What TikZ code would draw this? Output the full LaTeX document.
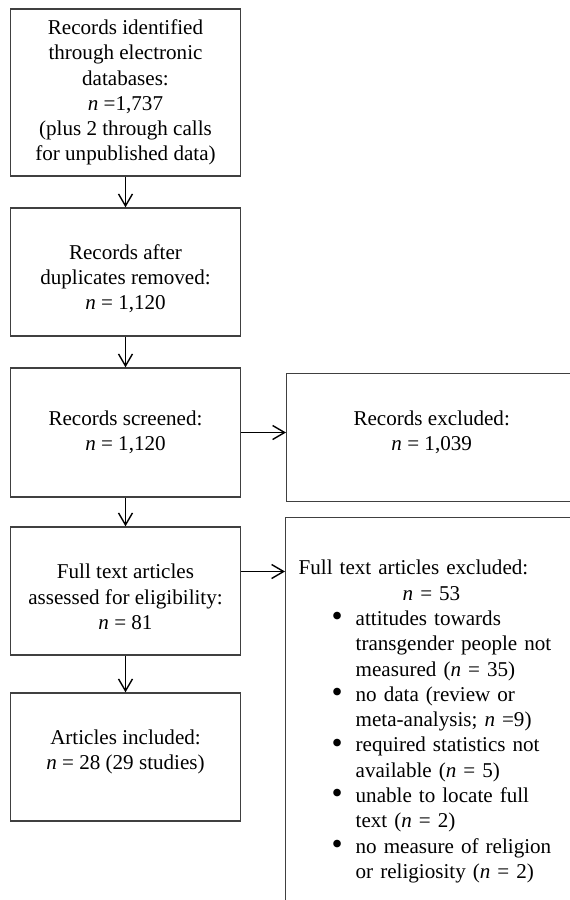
\documentclass[tikz,border=0pt]{standalone}
\usepackage{fontspec}
\setmainfont{Liberation Serif}
\usetikzlibrary{arrows.meta}
\newcommand{\fitem}{\hspace*{0.66cm}\makebox[0.48cm][l]{\raisebox{-0.6pt}{\scalebox{1.5}{\textbullet}}}}
\newcommand{\fcont}{\hspace*{1.14cm}}
\tikzset{
  recbox/.style={rectangle,draw=black!75,line width=0.8pt,align=center,minimum width=4.6cm,minimum height=2.56cm},
  sidebox/.style={rectangle,draw=black!75,line width=0.8pt,align=center,minimum width=5.8cm,minimum height=2.56cm},
  flow/.style={line width=0.8pt,-{Straight Barb[length=0.24cm,width=0.28cm]}}
}
\begin{document}
\begin{tikzpicture}[font=\fontsize{12}{14.4}\selectfont]
\clip (0,0) rectangle (11.4,-18);
\path (2.51,-1.85) node(a)[recbox,minimum height=3.34cm]{Records identified\\through electronic\\databases:\\\textit{n} =1,737\\(plus 2 through calls\\for unpublished data)}
(2.51,-5.44) node(b)[recbox]{\rule{0pt}{0.57cm}Records after\\duplicates removed:\\\textit{n} = 1,120}
(2.51,-8.65) node(c)[recbox,minimum height=2.58cm]{Records screened:\\\textit{n} = 1,120}
(2.51,-11.82) node(e)[recbox]{\rule{0pt}{0.53cm}Full text articles\\assessed for eligibility:\\\textit{n} = 81}
(2.51,-15.14) node(g)[recbox]{Articles included:\\\textit{n} = 28 (29 studies)\rule[-0.29cm]{0pt}{0.29cm}}
(5.72,-7.46) node(d)[sidebox,anchor=north west]{Records excluded:\\\textit{n} = 1,039\rule[-0.28cm]{0pt}{0.28cm}}
(5.7,-10.34) node(f)[rectangle,draw=black!75,line width=0.8pt,anchor=north west,text width=6cm,align=left,inner xsep=0.26cm,inner ysep=0.85cm]{Full text articles excluded:\\
\hspace*{2.08cm}\textit{n} = 53\\
\fitem attitudes towards\\
\fcont transgender people not\\
\fcont measured (\textit{n} = 35)\\
\fitem no data (review or\\
\fcont meta-analysis; \textit{n} =9)\\
\fitem required statistics not\\
\fcont available (\textit{n} = 5)\\
\fitem unable to locate full\\
\fcont text (\textit{n} = 2)\\
\fitem no measure of religion\\
\fcont or religiosity (\textit{n} = 2)};
\draw[flow](a.south)--(b.north);
\draw[flow](b.south)--(c.north);
\draw[flow](c.south)--(e.north);
\draw[flow](e.south)--(g.north);
\draw[flow](c.east)--(c.east -| d.west);
\draw[flow]([yshift=0.39cm]e.east)--([yshift=0.39cm]e.east -| f.west);
\end{tikzpicture}
\end{document}
